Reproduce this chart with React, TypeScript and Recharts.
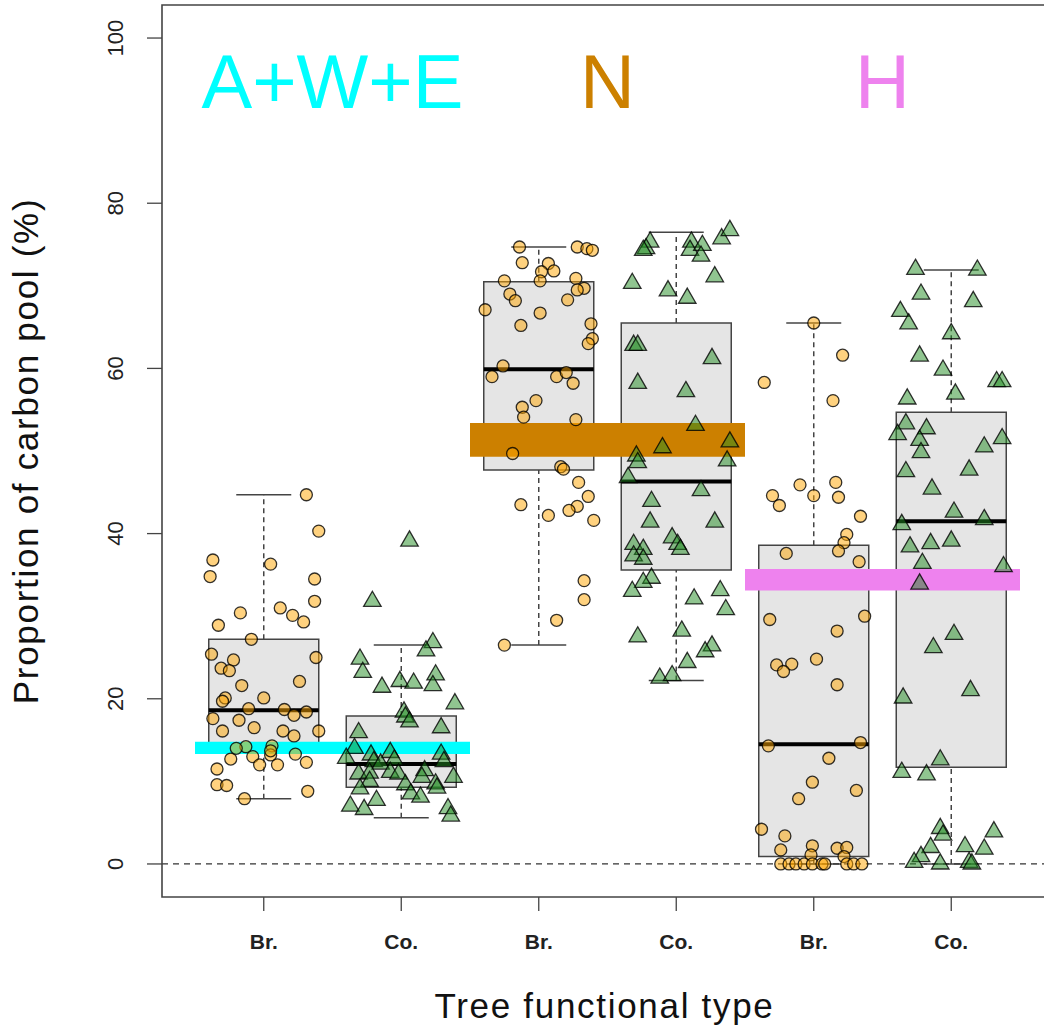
import React from 'react';
import {
  ComposedChart,
  XAxis,
  YAxis,
  Scatter,
  ReferenceArea,
  ReferenceLine,
  ReferenceDot,
  Label,
} from 'recharts';

// ---------- data ----------
const categories = ['Br.', 'Co.', 'Br.', 'Co.', 'Br.', 'Co.'];
const positions = [1, 2, 3, 4, 5, 6];
const yTicks = [0, 20, 40, 60, 80, 100];

const groupNames = ['A+W+E', 'N', 'H'];
const groupColors = ['#00FFFF', '#CC8000', '#EE82EE'];
const groupCenters = [1.5, 3.5, 5.5];
const groupLabelY = 91.5;

const bandFrom = [0.5, 2.5, 4.5];
const bandTo = [2.5, 4.5, 6.5];
const bandLow = [13.3, 49.3, 33.1];
const bandHigh = [14.8, 53.4, 35.7];

const whiskerLow = [7.9, 5.6, 26.5, 22.2, 0, 0];
const q1 = [14.0, 9.3, 47.7, 35.6, 0.9, 11.7];
const median = [18.6, 12.1, 59.9, 46.3, 14.5, 41.5];
const q3 = [27.2, 17.9, 70.5, 65.5, 38.6, 54.7];
const whiskerHigh = [44.7, 26.5, 74.7, 76.5, 65.5, 71.9];

const brAWE = [
  [1.31, 44.7], [1.40, 40.3], [0.63, 36.8], [0.61, 34.8], [1.05, 36.3], [1.37, 34.5], [1.37, 31.8],
  [0.83, 30.4], [1.12, 31.0], [1.21, 30.1], [1.29, 29.3], [0.67, 28.9], [0.91, 27.2], [0.62, 25.4],
  [0.78, 24.7], [1.38, 25.0], [0.69, 23.7], [0.75, 23.4], [0.84, 21.6], [1.26, 22.1], [0.72, 20.1],
  [0.70, 19.7], [1.00, 20.1], [0.63, 17.6], [0.89, 18.8], [0.82, 17.4], [1.15, 18.7], [1.22, 18.0],
  [1.31, 18.4], [0.70, 16.1], [0.93, 16.5], [1.14, 16.1], [1.22, 15.5], [1.40, 16.1], [0.87, 14.2],
  [1.06, 14.3], [1.05, 13.2], [0.76, 12.7], [0.92, 13.0], [0.97, 12.0], [1.10, 12.0], [1.23, 13.3],
  [1.31, 12.3], [0.66, 11.5], [0.66, 9.6], [0.73, 9.5], [0.86, 7.9], [1.32, 8.8], [0.80, 14.0],
  [1.05, 13.7],
];

const coAWE = [
  [2.06, 39.1], [1.79, 31.8], [2.23, 26.8], [2.18, 25.8], [1.70, 24.8], [1.72, 23.2], [1.86, 21.4],
  [1.99, 22.1], [2.09, 21.9], [2.25, 22.9], [2.23, 21.6], [2.39, 19.4], [2.02, 18.4], [2.03, 17.8],
  [2.06, 17.2], [2.29, 16.5], [1.69, 15.9], [1.66, 14.0], [1.60, 12.8], [1.78, 13.2], [1.92, 13.5],
  [1.95, 12.6], [1.80, 12.4], [1.85, 12.1], [2.29, 13.3], [2.31, 12.4], [1.69, 10.9], [1.77, 11.0],
  [1.92, 11.1], [1.98, 10.9], [2.17, 11.3], [2.15, 10.5], [2.38, 10.5], [1.77, 10.0], [1.70, 9.1],
  [2.03, 9.6], [2.07, 8.5], [2.14, 8.1], [2.25, 9.7], [2.26, 9.2], [1.82, 7.7], [1.63, 7.0],
  [1.73, 6.6], [2.34, 6.7], [2.36, 5.8],
];

const brN = [
  [2.86, 74.7], [3.28, 74.7], [3.35, 74.5], [3.39, 74.3], [2.88, 72.8], [3.07, 72.7], [3.11, 71.8],
  [3.02, 71.7], [3.01, 70.6], [2.75, 70.6], [3.27, 70.9], [3.33, 69.7], [3.28, 69.5], [2.79, 69.0],
  [2.83, 68.2], [3.21, 68.3], [2.61, 67.1], [3.01, 66.7], [2.87, 65.2], [3.38, 65.4], [3.39, 63.6],
  [3.36, 63.0], [2.74, 60.3], [2.66, 59.0], [3.13, 59.0], [3.20, 59.5], [3.25, 58.2], [2.98, 56.1],
  [2.88, 55.3], [2.89, 54.1], [3.27, 53.8], [2.81, 49.7], [3.16, 48.1], [3.18, 47.8], [3.29, 46.2],
  [3.36, 44.5], [2.87, 43.5], [3.28, 43.3], [3.22, 42.8], [3.07, 42.2], [3.40, 41.6], [3.33, 34.3],
  [3.33, 32.0], [3.13, 29.5], [2.75, 26.5],
];

const coN = [
  [3.81, 75.3], [3.78, 74.5], [3.76, 74.3], [4.11, 75.3], [4.10, 74.3], [4.19, 74.9], [4.18, 73.6],
  [4.33, 75.7], [4.39, 76.7], [4.28, 71.1], [3.68, 70.3], [3.94, 69.4], [4.08, 68.5], [3.69, 62.8],
  [3.72, 62.8], [4.26, 61.2], [3.72, 58.2], [4.07, 57.2], [4.14, 53.1], [3.90, 50.4], [4.39, 51.1],
  [3.71, 49.4], [3.72, 48.6], [4.37, 48.8], [3.65, 46.8], [4.18, 45.2], [3.82, 43.9], [3.81, 41.4],
  [4.28, 41.4], [3.97, 39.5], [4.01, 38.7], [4.03, 38.1], [3.69, 38.7], [3.76, 38.1], [3.69, 37.3],
  [3.76, 36.9], [3.82, 34.6], [3.76, 34.1], [3.68, 33.0], [4.32, 33.1], [4.13, 32.1], [4.36, 30.8],
  [3.72, 27.5], [4.04, 28.2], [4.26, 26.4], [4.21, 25.7], [4.08, 24.4], [3.88, 22.5], [3.97, 22.8],
];

const brH = [
  [5.00, 65.5], [5.21, 61.6], [4.64, 58.3], [5.14, 56.1], [4.90, 45.9], [5.16, 46.2], [4.70, 44.6],
  [4.75, 43.4], [5.00, 44.6], [5.18, 44.4], [5.34, 42.1], [5.24, 39.9], [5.22, 38.9], [5.18, 37.9],
  [4.80, 37.6], [5.33, 36.6], [4.68, 29.6], [5.37, 30.0], [5.17, 28.2], [4.73, 24.1], [4.84, 24.2],
  [4.78, 23.3], [5.02, 24.8], [5.17, 21.7], [4.67, 14.3], [5.34, 14.7], [5.11, 12.8], [4.99, 9.9],
  [4.89, 7.9], [5.31, 8.9], [4.62, 4.2], [4.79, 3.4], [4.76, 1.7], [4.99, 2.2], [4.98, 1.1],
  [5.17, 1.9], [5.24, 2.0], [5.22, 0.9], [4.76, 0], [4.82, 0], [4.87, 0], [4.93, 0], [4.99, 0],
  [5.06, 0], [5.08, 0], [5.24, 0], [5.29, 0], [5.35, 0],
];

const coH = [
  [5.74, 72.0], [6.19, 71.9], [5.78, 69.0], [6.16, 68.1], [5.63, 66.9], [5.69, 65.4], [6.00, 64.2],
  [5.77, 61.5], [5.94, 59.8], [6.33, 58.4], [6.37, 58.4], [6.03, 56.9], [5.68, 56.3], [5.67, 53.3],
  [5.61, 52.0], [5.82, 52.7], [5.77, 51.3], [5.78, 49.8], [6.37, 51.5], [6.24, 50.5], [5.67, 47.5],
  [6.13, 47.7], [5.86, 45.4], [6.02, 42.6], [5.64, 41.1], [6.24, 41.7], [5.70, 38.4], [5.85, 38.8],
  [6.00, 39.1], [5.79, 36.4], [6.38, 36.0], [5.77, 33.9], [6.02, 27.8], [5.87, 26.2], [6.14, 21.0],
  [5.65, 20.1], [5.92, 12.6], [5.64, 11.1], [5.82, 10.8], [5.92, 4.3], [5.94, 3.5], [6.31, 3.9],
  [5.85, 2.0], [5.78, 0.9], [6.10, 2.1], [6.24, 1.8], [5.73, 0.2], [5.92, 0], [6.13, 0.2], [6.15, 0],
];

// ---------- helpers ----------
const FONT = '"Liberation Sans", Arial, Helvetica, sans-serif';
const toObjs = (arr: number[][]) => arr.map(([x, y]) => ({ x, y }));
const brPoints = [...toObjs(brAWE), ...toObjs(brN), ...toObjs(brH)];
const coPoints = [...toObjs(coAWE), ...toObjs(coN), ...toObjs(coH)];

const CircleShape = (props: any) => {
  const { cx, cy } = props;
  if (cx == null || cy == null) return null;
  return (
    <circle cx={cx} cy={cy} r={6} fill="#FFA500" fillOpacity={0.5}
      stroke="#000" strokeOpacity={0.8} strokeWidth={1.3} />
  );
};

const TriangleShape = (props: any) => {
  const { cx, cy } = props;
  if (cx == null || cy == null) return null;
  const R = 6.5;
  const top = 1.555 * R;
  const hw = 1.3468 * R;
  const bot = 0.7776 * R;
  const d = `M${cx},${cy - top} L${cx + hw},${cy + bot} L${cx - hw},${cy + bot} Z`;
  return (
    <path d={d} fill="#228B22" fillOpacity={0.5} stroke="#000"
      strokeOpacity={0.8} strokeWidth={1.3} strokeLinejoin="miter" />
  );
};

const YTick = (props: any) => {
  const { x, y, payload } = props;
  return (
    <text x={x} y={y} transform={`rotate(-90 ${x} ${y})`} textAnchor="middle"
      fontSize={22} fill="#222" fontFamily={FONT}>
      {payload.value}
    </text>
  );
};

const XTick = (props: any) => {
  const { x, y, payload } = props;
  const idx = positions.indexOf(payload.value);
  return (
    <text x={x} y={y} textAnchor="middle" fontSize={21} fontWeight="bold"
      fill="#222" fontFamily={FONT}>
      {categories[idx]}
    </text>
  );
};

const XTitle = (props: any) => {
  const vb = props.viewBox || {};
  const cx = vb.x + vb.width / 2 - 3;
  const y = vb.y + 121;
  return (
    <text x={cx} y={y} textAnchor="middle" fontSize={35} letterSpacing={1.7}
      fill="#111" fontFamily={FONT}>
      Tree functional type
    </text>
  );
};

const YTitle = (props: any) => {
  const vb = props.viewBox || {};
  const x = 38;
  const y = vb.y + vb.height / 2;
  return (
    <text x={x} y={y} transform={`rotate(-90 ${x} ${y})`} textAnchor="middle"
      fontSize={35} letterSpacing={1.7} fill="#111" fontFamily={FONT}>
      Proportion of carbon pool (%)
    </text>
  );
};

const makeGroupLabel = (name: string, color: string) => (props: any) => {
  const { cx, cy } = props;
  if (cx == null || cy == null) return null;
  return (
    <text x={cx} y={cy} textAnchor="middle" fontSize={76} fill={color} fontFamily={FONT}>
      {name}
    </text>
  );
};

export default function App() {
  return (
    <div style={{ position: 'absolute', left: 0, top: 0, width: 1044, height: 1032, overflow: 'hidden', background: '#fff' }}>
      <ComposedChart
        width={1070}
        height={1032}
        margin={{ top: 5, right: 17, bottom: 0, left: 0 }}
      >
        <XAxis
          dataKey="x"
          type="number"
          domain={[0.26, 6.74]}
          ticks={positions}
          interval={0}
          allowDataOverflow
          height={135}
          axisLine={false}
          tickSize={14}
          tickMargin={38}
          tickLine={{ stroke: '#444', strokeWidth: 1.3 }}
          tick={<XTick />}
        >
          <Label content={<XTitle />} />
        </XAxis>
        <YAxis
          dataKey="y"
          type="number"
          domain={[-4, 104]}
          ticks={yTicks}
          interval={0}
          allowDataOverflow
          width={162}
          axisLine={false}
          tickSize={15}
          tickMargin={24}
          tickLine={{ stroke: '#444', strokeWidth: 1.3 }}
          tick={<YTick />}
        >
          <Label content={<YTitle />} />
        </YAxis>

        {/* boxes */}
        {positions.map((p, i) => (
          <ReferenceArea key={'box' + i} x1={p - 0.4} x2={p + 0.4} y1={q1[i]} y2={q3[i]}
            fill="#E5E5E5" fillOpacity={1} stroke="#444" strokeWidth={1.5} zIndex={100} />
        ))}
        {/* whiskers */}
        {positions.map((p, i) => (
          <ReferenceLine key={'wu' + i} segment={[{ x: p, y: q3[i] }, { x: p, y: whiskerHigh[i] }]}
            stroke="#444" strokeWidth={1.5} strokeDasharray="5 4" zIndex={110} />
        ))}
        {positions.map((p, i) => (
          <ReferenceLine key={'wl' + i} segment={[{ x: p, y: whiskerLow[i] }, { x: p, y: q1[i] }]}
            stroke="#444" strokeWidth={1.5} strokeDasharray="5 4" zIndex={110} />
        ))}
        {positions.map((p, i) => (
          <ReferenceLine key={'cu' + i} segment={[{ x: p - 0.2, y: whiskerHigh[i] }, { x: p + 0.2, y: whiskerHigh[i] }]}
            stroke="#444" strokeWidth={1.5} zIndex={110} />
        ))}
        {positions.map((p, i) => (
          <ReferenceLine key={'cl' + i} segment={[{ x: p - 0.2, y: whiskerLow[i] }, { x: p + 0.2, y: whiskerLow[i] }]}
            stroke="#444" strokeWidth={1.5} zIndex={110} />
        ))}
        {/* medians */}
        {positions.map((p, i) => (
          <ReferenceLine key={'md' + i} segment={[{ x: p - 0.4, y: median[i] }, { x: p + 0.4, y: median[i] }]}
            stroke="#000" strokeWidth={4} zIndex={120} />
        ))}
        {/* zero line */}
        <ReferenceLine y={0} stroke="#333" strokeWidth={1.3} strokeDasharray="6 5" zIndex={130} />
        {/* frame */}
        <ReferenceArea x1={0.26} x2={6.74} y1={-4} y2={104} fill="none" fillOpacity={0}
          stroke="#444" strokeWidth={1.6} zIndex={130} />
        {/* group bands */}
        {groupNames.map((g, i) => (
          <ReferenceArea key={'band' + i} x1={bandFrom[i]} x2={bandTo[i]} y1={bandLow[i]} y2={bandHigh[i]}
            fill={groupColors[i]} fillOpacity={1} stroke="none" zIndex={140} />
        ))}
        {/* points */}
        <Scatter data={brPoints} dataKey="y" shape={CircleShape} isAnimationActive={false} zIndex={600} />
        <Scatter data={coPoints} dataKey="y" shape={TriangleShape} isAnimationActive={false} zIndex={600} />
        {/* group labels */}
        {groupNames.map((g, i) => (
          <ReferenceDot key={'lab' + i} x={groupCenters[i]} y={groupLabelY} r={0}
            shape={makeGroupLabel(g, groupColors[i])} zIndex={700} />
        ))}
      </ComposedChart>
    </div>
  );
}
